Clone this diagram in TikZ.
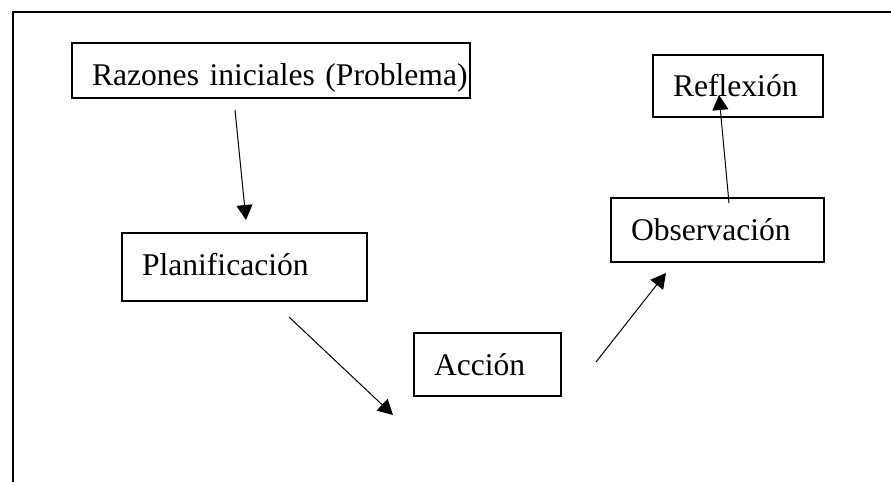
\documentclass[tikz,border=0pt]{standalone}
\usepackage{fontspec}
\setmainfont{Liberation Serif}
\usetikzlibrary{arrows.meta}

\begin{document}
\begin{tikzpicture}[x=0.5pt, y=-0.5pt, >={Triangle[length=7.5pt,width=8pt]},
    stage/.style={draw, line width=1pt, anchor=north west, inner sep=0pt,
      align=left, text height=21pt, font=\fontsize{15.8}{19}\selectfont,
      execute at begin node={\hspace*{10pt}}},
    link/.style={->, line width=0.5pt}]
    \useasboundingbox (0,0) rectangle (891,482);
    \draw [line width=1.25pt] (13,482) -- (13,12) -- (891,12);
    \node[stage, text width=199pt, text depth=6.5pt] at (71,42) (razones) {\mbox{Razones iniciales (Problema)}};
    \node[stage, text width=122.5pt, text depth=13pt] at (121,232) (planificacion) {Planificación};
    \node[stage, text width=73.5pt, text depth=10.5pt] at (413,332) (accion) {Acción};
    \node[stage, text width=106.5pt, text depth=11pt] at (610,197) (observacion) {Observación};
    \node[stage, text width=85pt, text depth=10pt] at (652,54) (reflexion) {Reflexión};
    \draw [link] ([shift={(-36,11)}]razones.south) -- ([shift={(1.5,-12)}]planificacion.north);
    \draw [link] ([shift={(44.5,15)}]planificacion.south) -- ([shift={(-20,18)}]accion.south west);
    \draw [link] ([shift={(34,-2.5)}]accion.east) -- ([shift={(56,10)}]observacion.south west);
    \draw [link] ([shift={(11.5,6)}]observacion.north) -- ([shift={(-19,-23)}]reflexion.south);
\end{tikzpicture}
\end{document}
